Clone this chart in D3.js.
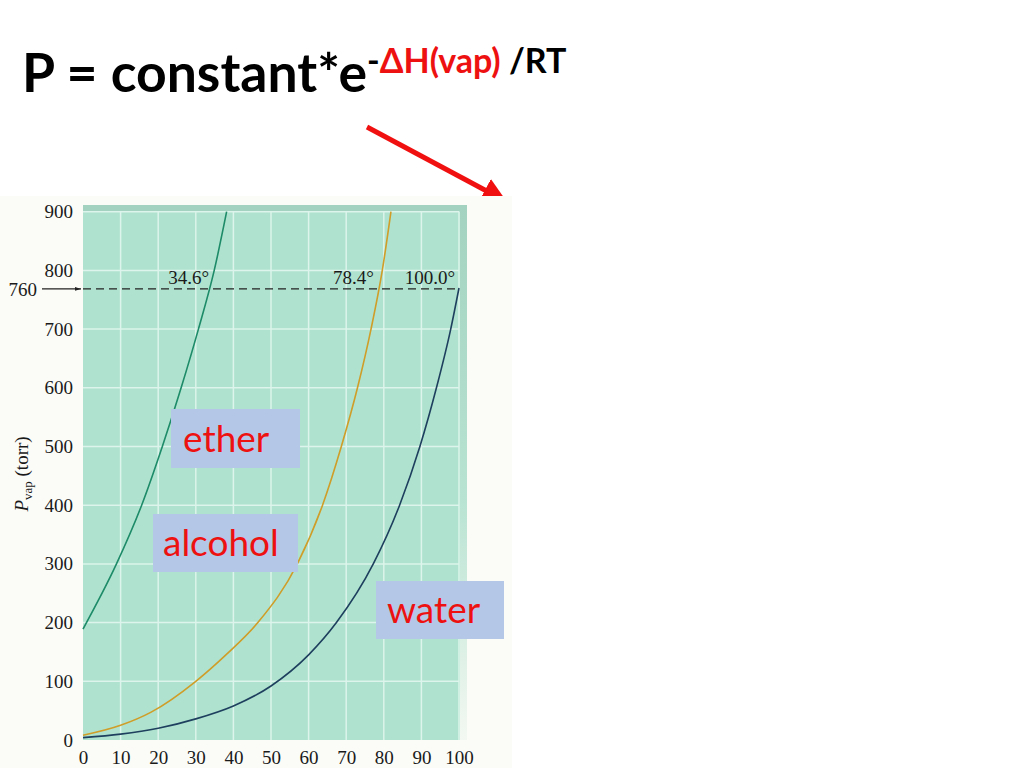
<!DOCTYPE html>
<html>
<head>
<meta charset="utf-8">
<script src="https://cdn.jsdelivr.net/npm/d3@7"></script>
<style>
  body { margin: 0; background: #fff; }
  svg { display: block; }
</style>
</head>
<body>
<div id="chart"></div>
<script>
// vapour pressure curves (temperature in C, pressure in torr)
var etherT = [0, 8.9, 15.6, 21.1, 26.1, 30.7, 34.9, 38.2];
var etherP = [189, 300, 400, 500, 600, 700, 800, 900];

var alcoholT = [0, 10, 18, 30, 38, 46.5, 57, 63.7, 68.7, 73, 76.6, 79.6, 81.9];
var alcoholP = [8, 25, 47, 100, 145, 200, 300, 400, 500, 600, 700, 800, 900];

var waterT = [0, 10, 20, 30, 40, 50, 60, 67.4, 77.2, 84.2, 89.6, 94.0, 97.8, 100];
var waterP = [4, 10, 20, 36, 58, 92, 145, 200, 300, 400, 500, 600, 700, 770];

var xTicks = [0, 10, 20, 30, 40, 50, 60, 70, 80, 90, 100];
var yTicks = [0, 100, 200, 300, 400, 500, 600, 700, 800, 900];

var boilT = [34.6, 78.4, 100.0];
var boilLabels = ["34.6°", "78.4°", "100.0°"];
var atmP = 760;

var tags = ["ether", "alcohol", "water"];

window.onload = drawSlide;

function drawSlide(){
    var width = 1024, height = 768;

    var svg = d3.select("#chart")
        .append("svg")
        .attr("width", width)
        .attr("height", height);

    var x = d3.scaleLinear().domain([0, 100]).range([83, 459]);
    var y = d3.scaleLinear().domain([0, 900]).range([740, 211.7]);

    // title with the exponent
    var title = svg.append("text")
        .attr("x", 22)
        .attr("y", 92)
        .style("font-family", "Lato, 'Open Sans', sans-serif")
        .style("font-weight", "bold")
        .style("font-size", "53.5px")
        .style("fill", "#000");
    title.append("tspan").text("P = constant*e");
    title.append("tspan").attr("dy", -19).style("font-size", "34px").text("-");
    title.append("tspan").style("font-size", "34px").style("fill", "#ee1111").text("\u0394H(vap)");
    title.append("tspan").style("font-size", "34px").text(" /RT");

    // red arrow
    var defs = svg.append("defs");
    defs.append("marker")
        .attr("id", "redhead")
        .attr("viewBox", "0 0 10 10")
        .attr("refX", 5).attr("refY", 5)
        .attr("markerWidth", 5).attr("markerHeight", 5)
        .attr("orient", "auto")
        .append("path")
        .attr("d", "M0,0 L10,5 L0,10 z")
        .attr("fill", "#f01010");
    svg.append("line")
        .attr("x1", 367).attr("y1", 127)
        .attr("x2", 496).attr("y2", 196)
        .attr("stroke", "#f01010")
        .attr("stroke-width", 5)
        .attr("marker-end", "url(#redhead)");

    // faint page of the scanned figure
    svg.append("rect")
        .attr("x", 0).attr("y", 196)
        .attr("width", 512).attr("height", 572)
        .attr("fill", "#fbfcf8");

    // darker edge strip fading downwards
    var fade = defs.append("linearGradient")
        .attr("id", "edgefade")
        .attr("x1", 0).attr("x2", 0).attr("y1", 0).attr("y2", 1);
    fade.append("stop").attr("offset", "0%").attr("stop-color", "#a3d3c0");
    fade.append("stop").attr("offset", "55%").attr("stop-color", "#b8e3d2");
    fade.append("stop").attr("offset", "100%").attr("stop-color", "#f3f8f2");

    // green plot background
    svg.append("rect")
        .attr("x", x(0)).attr("y", 205)
        .attr("width", 467 - x(0)).attr("height", y(0) - 205)
        .attr("fill", "url(#edgefade)");
    svg.append("rect")
        .attr("x", x(0)).attr("y", 205)
        .attr("width", x(100) - x(0)).attr("height", 7)
        .attr("fill", "#a3d3c0");
    svg.append("rect")
        .attr("x", x(0)).attr("y", 211)
        .attr("width", x(100) - x(0) + 1).attr("height", y(0) - 211)
        .attr("fill", "#afe3cf");

    // grid
    var grid = svg.append("g").attr("class", "grid");
    grid.selectAll(".vline")
        .data(xTicks.slice(1))
        .enter()
        .append("line")
        .attr("class", "vline")
        .attr("x1", function(d){ return x(d); })
        .attr("x2", function(d){ return x(d); })
        .attr("y1", y(900)).attr("y2", y(0))
        .attr("stroke", "#dcf4eb")
        .attr("stroke-width", 1.5);
    grid.selectAll(".hline")
        .data(yTicks.slice(1))
        .enter()
        .append("line")
        .attr("class", "hline")
        .attr("x1", x(0)).attr("x2", x(100))
        .attr("y1", function(d){ return y(d); })
        .attr("y2", function(d){ return y(d); })
        .attr("stroke", "#dcf4eb")
        .attr("stroke-width", 1.5);

    // axes
    var serif = "'Liberation Serif', 'DejaVu Serif', serif";
    var yAxis = svg.append("g")
        .attr("transform", "translate(" + x(0) + ",0)")
        .call(d3.axisLeft(y).tickValues(yTicks).tickSize(0).tickPadding(10));
    var xAxis = svg.append("g")
        .attr("transform", "translate(0," + y(0) + ")")
        .call(d3.axisBottom(x).tickValues(xTicks).tickSize(0).tickPadding(11));
    [xAxis, yAxis].forEach(function(ax){
        ax.select(".domain").remove();
        ax.selectAll("text")
            .style("font-family", serif)
            .style("font-size", "19px")
            .style("fill", "#1a1a1a");
    });

    // y label
    var ylab = svg.append("text")
        .attr("transform", "translate(28,474) rotate(-90)")
        .attr("text-anchor", "middle")
        .style("font-family", serif)
        .style("font-size", "19px")
        .style("fill", "#1a1a1a");
    ylab.append("tspan").style("font-style", "italic").text("P");
    ylab.append("tspan").attr("dy", 4).style("font-size", "13px").text("vap");
    ylab.append("tspan").attr("dy", -4).text(" (torr)");

    // 760 torr line
    var atmY = y(atmP) - 5;
    svg.append("line")
        .attr("x1", x(0)).attr("x2", x(100))
        .attr("y1", atmY).attr("y2", atmY)
        .attr("stroke", "#222")
        .attr("stroke-width", 1.2)
        .attr("stroke-dasharray", "8,5");
    defs.append("marker")
        .attr("id", "blackhead")
        .attr("viewBox", "0 0 10 10")
        .attr("refX", 10).attr("refY", 5)
        .attr("markerWidth", 7).attr("markerHeight", 5)
        .attr("orient", "auto")
        .append("path")
        .attr("d", "M0,2 L10,5 L0,8 z")
        .attr("fill", "#222");
    svg.append("line")
        .attr("x1", 42).attr("x2", x(0) - 2)
        .attr("y1", atmY).attr("y2", atmY)
        .attr("stroke", "#222")
        .attr("stroke-width", 1.2)
        .attr("marker-end", "url(#blackhead)");
    svg.append("text")
        .attr("x", 37).attr("y", atmY + 7)
        .attr("text-anchor", "end")
        .style("font-family", serif)
        .style("font-size", "19px")
        .style("fill", "#1a1a1a")
        .text(atmP);

    svg.selectAll(".boil")
        .data(boilT)
        .enter()
        .append("text")
        .attr("class", "boil")
        .attr("x", function(d){ return x(d) - 4; })
        .attr("y", atmY - 5)
        .attr("text-anchor", "end")
        .style("font-family", serif)
        .style("font-size", "19px")
        .style("fill", "#1a1a1a")
        .text(function(d, i){ return boilLabels[i]; });

    // curves
    var series = [
        {t: etherT, p: etherP, color: "#1d8a68"},
        {t: alcoholT, p: alcoholP, color: "#cf9d28"},
        {t: waterT, p: waterP, color: "#1e3f5e"}
    ];
    var line = d3.line()
        .x(function(d){ return x(d[0]); })
        .y(function(d){ return y(d[1]); })
        .curve(d3.curveMonotoneX);
    svg.selectAll(".curve")
        .data(series)
        .enter()
        .append("path")
        .attr("class", "curve")
        .attr("d", function(s){ return line(d3.zip(s.t, s.p)); })
        .attr("fill", "none")
        .attr("stroke", function(s){ return s.color; })
        .attr("stroke-width", 1.6);

    // label boxes
    var boxes = [
        {x: 171, y: 409, w: 129, h: 59, tx: 183, ty: 452},
        {x: 153, y: 514, w: 145, h: 58, tx: 163, ty: 556},
        {x: 376, y: 581, w: 128, h: 58, tx: 387, ty: 623}
    ];
    var tag = svg.selectAll(".tag")
        .data(boxes)
        .enter()
        .append("g")
        .attr("class", "tag");
    tag.append("rect")
        .attr("x", function(d){ return d.x; })
        .attr("y", function(d){ return d.y; })
        .attr("width", function(d){ return d.w; })
        .attr("height", function(d){ return d.h; })
        .attr("fill", "#b4c7e7");
    tag.append("text")
        .attr("x", function(d){ return d.tx; })
        .attr("y", function(d){ return d.ty; })
        .style("font-family", "Lato, 'Open Sans', sans-serif")
        .style("font-size", "37px")
        .style("fill", "#ee1111")
        .text(function(d, i){ return tags[i]; });
}
</script>
</body>
</html>
